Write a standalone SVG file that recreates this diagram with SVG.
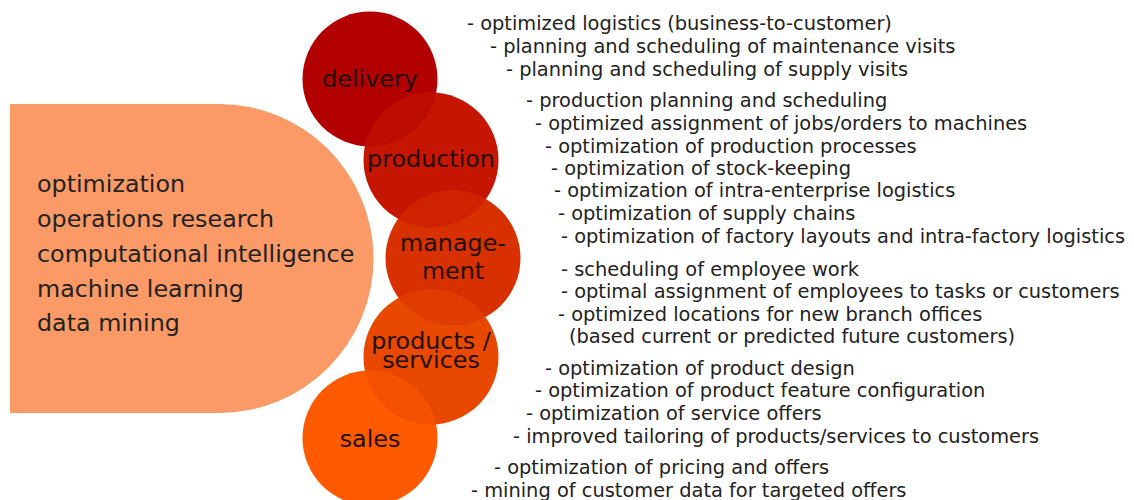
<svg xmlns="http://www.w3.org/2000/svg" width="1134" height="500" viewBox="0 0 1134 500">
  <style>
    .blabel { font-family: "DejaVu Sans", sans-serif; font-size: 23.8px; fill: #22100c; text-anchor: middle; }
    .method { font-family: "DejaVu Sans", sans-serif; font-size: 23.8px; fill: #222222; }
    .item { font-family: "DejaVu Sans", sans-serif; font-size: 19.4px; fill: #222222; }
  </style>
  <defs>
    <clipPath id="clip-production"><circle cx="431" cy="160" r="67.5"/></clipPath>
    <clipPath id="clip-management"><circle cx="453" cy="258" r="67.5"/></clipPath>
    <clipPath id="clip-products"><circle cx="431" cy="357" r="67.5"/></clipPath>
    <clipPath id="clip-sales"><circle cx="370" cy="438" r="67.5"/></clipPath>
  </defs>
  <rect width="1134" height="500" fill="#ffffff"/>

  <!-- methods block: rectangle with a rounded right side -->
  <g id="methods">
    <path d="M10,104 H219 A154.5,154.5 0 0 1 219,413 H10 Z" fill="#FB9A66"/>
    <text class="method" x="37" y="192">optimization</text>
    <text class="method" x="37" y="227">operations research</text>
    <text class="method" x="37" y="262">computational intelligence</text>
    <text class="method" x="37" y="297">machine learning</text>
    <text class="method" x="37" y="331">data mining</text>
  </g>

  <!-- application areas -->
  <g id="delivery">
    <circle cx="370" cy="79" r="67.5" fill="#B30000"/>
    <text class="blabel" x="370" y="87">delivery</text>
  </g>
  <g id="production">
    <circle cx="431" cy="160" r="67.5" fill="#C61500"/>
    <text class="blabel" x="431" y="167">production</text>
  </g>
  <g id="management">
    <circle cx="453" cy="258" r="67.5" fill="#D93000"/>
    <text class="blabel" x="453" y="251">manage-</text>
    <text class="blabel" x="453" y="279">ment</text>
  </g>
  <g id="products-services">
    <circle cx="431" cy="357" r="67.5" fill="#E84800"/>
    <text class="blabel" x="431" y="349">products /</text>
    <text class="blabel" x="431" y="368">services</text>
  </g>
  <g id="sales">
    <circle cx="370" cy="438" r="67.5" fill="#FF5A00"/>
    <text class="blabel" x="370" y="447">sales</text>
  </g>

  <!-- blended lenses where neighbouring areas overlap -->
  <g id="overlaps">
    <circle cx="370" cy="79" r="67.5" fill="#BD0C00" clip-path="url(#clip-production)"/>
    <circle cx="431" cy="160" r="67.5" fill="#CF2200" clip-path="url(#clip-management)"/>
    <circle cx="453" cy="258" r="67.5" fill="#E03C00" clip-path="url(#clip-products)"/>
    <circle cx="431" cy="357" r="67.5" fill="#F35100" clip-path="url(#clip-sales)"/>
  </g>

  <!-- task lists next to each area -->
  <g id="delivery-tasks">
    <text class="item" x="467" y="30">- optimized logistics (business-to-customer)</text>
    <text class="item" x="490" y="53">- planning and scheduling of maintenance visits</text>
    <text class="item" x="506" y="76">- planning and scheduling of supply visits</text>
  </g>
  <g id="production-tasks">
    <text class="item" x="526" y="107">- production planning and scheduling</text>
    <text class="item" x="535" y="130">- optimized assignment of jobs/orders to machines</text>
    <text class="item" x="545" y="153">- optimization of production processes</text>
    <text class="item" x="551" y="175">- optimization of stock-keeping</text>
    <text class="item" x="554" y="197">- optimization of intra-enterprise logistics</text>
    <text class="item" x="558" y="220">- optimization of supply chains</text>
    <text class="item" x="561" y="243">- optimization of factory layouts and intra-factory logistics</text>
  </g>
  <g id="management-tasks">
    <text class="item" x="561" y="276">- scheduling of employee work</text>
    <text class="item" x="561" y="298">- optimal assignment of employees to tasks or customers</text>
    <text class="item" x="558" y="321">- optimized locations for new branch offices</text>
    <text class="item" x="569" y="343">(based current or predicted future customers)</text>
  </g>
  <g id="products-services-tasks">
    <text class="item" x="545" y="375">- optimization of product design</text>
    <text class="item" x="535" y="397">- optimization of product feature configuration</text>
    <text class="item" x="526" y="420">- optimization of service offers</text>
    <text class="item" x="513" y="443">- improved tailoring of products/services to customers</text>
  </g>
  <g id="sales-tasks">
    <text class="item" x="494" y="474">- optimization of pricing and offers</text>
    <text class="item" x="471" y="497">- mining of customer data for targeted offers</text>
  </g>
</svg>
